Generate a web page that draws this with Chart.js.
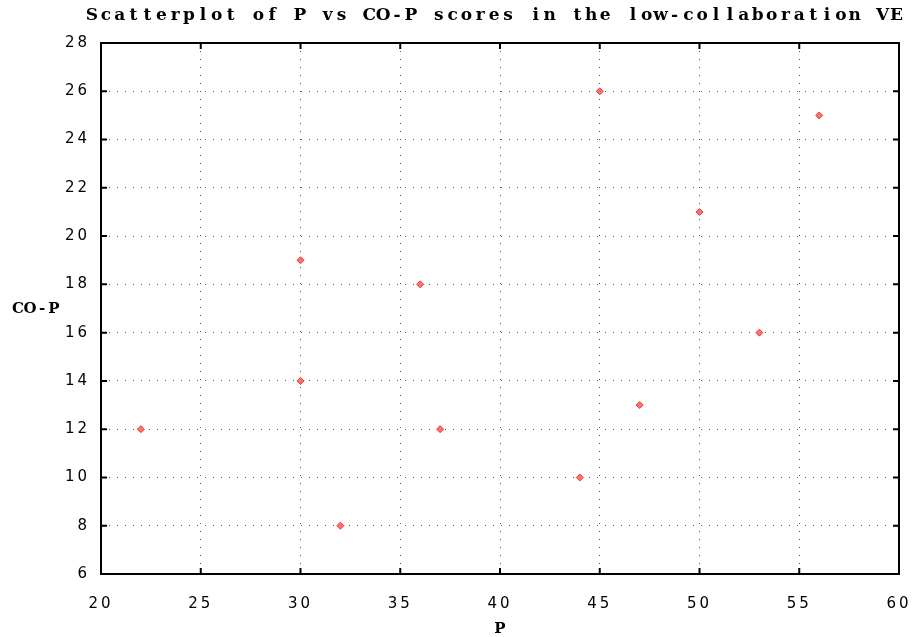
<!DOCTYPE html>
<html>
<head>
<meta charset="utf-8">
<script src="https://cdn.jsdelivr.net/npm/chart.js@4/dist/chart.umd.min.js"></script>
<style>
  html, body { margin: 0; padding: 0; background: #fff; }
  #wrap { width: 919px; height: 637px; position: relative; }
</style>
</head>
<body>
<div id="wrap"><canvas id="chart"></canvas></div>
<script>
const pScores = [22, 30, 30, 32, 36, 37, 44, 45, 47, 50, 53, 56];
const coPScores = [12, 19, 14, 8, 18, 12, 10, 26, 13, 21, 16, 25];
const xTicks = [20, 25, 30, 35, 40, 45, 50, 55, 60];
const yTicks = [6, 8, 10, 12, 14, 16, 18, 20, 22, 24, 26, 28];

const titleText = 'Scatterplot of P vs CO-P scores in the low-collaboration VE';
const xTitle = 'P';
const yTitle = 'CO-P';

const points = pScores.map((p, i) => ({ x: p, y: coPScores[i] }));

// fixed-pitch text: every character centred in its own cell (serif mono look)
const monoText = (ctx, text, left, cy, cell) => {
  ctx.textAlign = 'center';
  [...text].forEach((ch, i) => ctx.fillText(ch, left + cell * (i + 0.5), cy));
};

// frame, inward ticks and texts drawn on top of the library's scales
const framePlugin = {
  id: 'frame',
  beforeDraw(chart) {
    chart.ctx.letterSpacing = '3px';
  },
  afterDraw(chart) {
    const { ctx, chartArea: a, scales } = chart;
    ctx.save();
    ctx.letterSpacing = '0px';
    ctx.strokeStyle = '#000';
    ctx.lineWidth = 2;
    ctx.strokeRect(a.left, a.top, a.right - a.left, a.bottom - a.top);

    const len = 6;
    ctx.beginPath();
    xTicks.forEach(v => {
      const px = scales.x.getPixelForValue(v);
      ctx.moveTo(px, a.bottom); ctx.lineTo(px, a.bottom - len);
      ctx.moveTo(px, a.top); ctx.lineTo(px, a.top + len);
    });
    yTicks.forEach(v => {
      const py = scales.y.getPixelForValue(v);
      ctx.moveTo(a.left, py); ctx.lineTo(a.left + len, py);
      ctx.moveTo(a.right, py); ctx.lineTo(a.right - len, py);
    });
    ctx.stroke();

    ctx.fillStyle = '#000';
    ctx.textBaseline = 'middle';
    ctx.font = 'bold 17px "DejaVu Serif", serif';
    monoText(ctx, titleText, 85, 16, 13.87);

    ctx.font = 'bold 15px "DejaVu Serif", serif';
    monoText(ctx, yTitle, 12, 309, 12);
    monoText(ctx, xTitle, 494, 629, 12);
    ctx.restore();
  }
};

new Chart(document.getElementById('chart'), {
  type: 'scatter',
  data: {
    datasets: [{
      data: points,
      pointStyle: 'rectRot',
      pointRadius: 3.5,
      pointBackgroundColor: '#ff7070',
      pointBorderColor: '#e83a3a',
      pointBorderWidth: 1
    }]
  },
  options: {
    responsive: true,
    maintainAspectRatio: false,
    animation: false,
    layout: { padding: { top: 43, right: 20, left: 0, bottom: 0 } },
    plugins: {
      legend: { display: false },
      tooltip: { enabled: false }
    },
    scales: {
      x: {
        type: 'linear',
        min: 20,
        max: 60,
        afterFit: (scale) => {
          scale.height = 63;
          scale.paddingLeft = 0;
          scale.paddingRight = 0;
        },
        afterBuildTicks: (scale) => { scale.ticks = xTicks.map(v => ({ value: v })); },
        grid: {
          color: '#555',
          lineWidth: 1,
          drawTicks: false
        },
        border: { display: false, dash: [1, 7] },
        ticks: {
          padding: 21,
          color: '#000',
          maxRotation: 0,
          font: { family: '"DejaVu Sans", sans-serif', size: 15 }
        }
      },
      y: {
        type: 'linear',
        min: 6,
        max: 28,
        afterFit: (scale) => {
          scale.width = 101;
          scale.paddingTop = 0;
          scale.paddingBottom = 0;
        },
        afterBuildTicks: (scale) => { scale.ticks = yTicks.map(v => ({ value: v })); },
        grid: {
          color: '#555',
          lineWidth: 1,
          drawTicks: false
        },
        border: { display: false, dash: [1, 7] },
        ticks: {
          padding: 11,
          color: '#000',
          font: { family: '"DejaVu Sans", sans-serif', size: 15 }
        }
      }
    }
  },
  plugins: [framePlugin]
});
</script>
</body>
</html>
